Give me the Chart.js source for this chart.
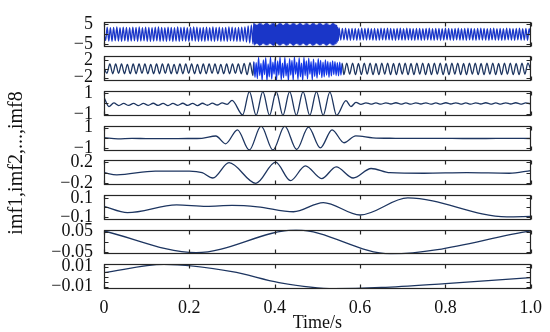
<!DOCTYPE html>
<html>
<head>
<meta charset="utf-8">
<script src="https://cdn.jsdelivr.net/npm/chart.js@4.4.1/dist/chart.umd.min.js"></script>
<style>
  body { margin: 0; background: #fff; }
  canvas { display: block; }
</style>
</head>
<body>
<canvas id="imfChart" width="550" height="332"></canvas>
<script>
// Axis data
const timeTicks = [0, 0.2, 0.4, 0.6, 0.8, 1.0];
const timeLabels = ["0", "0.2", "0.4", "0.6", "0.8", "1.0"];
const imfNames = ["imf1", "imf2", "imf3", "imf4", "imf5", "imf6", "imf7", "imf8"];
const imfLimits = [6.2, 2.8, 1.2, 1.2, 0.235, 0.13, 0.06, 0.0125];
const imfTicks = [
  [-5, 0, 5], [-2, 0, 2], [-1, 0, 1], [-1, 0, 1],
  [-0.2, 0, 0.2], [-0.1, 0, 0.1], [-0.05, 0, 0.05],
  [-0.01, -0.005, 0, 0.005, 0.01],
];

// imf1: peaks/troughs, evenly spaced inside each span
const imf1Spans = [[0, 0.349], [0.351, 0.549], [0.551, 1.0]];
const imf1Early = [
  0.4,-3.1, 3.5,-3.4, 3.3,-3.5, 3.4,-3.3, 3.6,-3.4,
  3.3,-3.5, 3.5,-3.3, 3.4,-3.6, 3.3,-3.4, 3.5,-3.3,
  3.4,-3.5, 3.6,-3.4, 3.3,-3.3, 3.5,-3.5, 3.4,-3.6,
  3.3,-3.4, 3.5,-3.3, 3.6,-3.5, 3.4,-3.4, 3.3,-3.5,
  3.5,-3.3, 3.4,-3.6, 3.3,-3.4, 3.6,-3.5, 3.4,-3.3,
  3.5,-3.4, 3.3,-3.5, 3.4,-3.3, 3.6,-3.4, 3.5,-3.6,
  3.3,-3.4, 3.4,-3.5, 3.5,-3.3, 3.3,-3.4, 3.6,-3.5,
  3.4,-3.3, 3.5,-3.6, 3.3,-3.4, 3.4,-3.5, 3.6,-3.3,
  3.5,-3.4, 3.3,-3.5, 3.4,-3.6, 3.5,-3.4, 3.7,-3.9,
  4.1,-4.4, 4.6,-4.8,
];
const imf1Burst = [
  5.6,-5.5, 5.3,-5.1, 4.9,-4.7, 4.7,-4.8, 5.0,-5.3, 5.5,-5.7, 5.7,
  -5.6, 5.4,-5.2, 4.9,-4.7, 4.6,-4.8, 5.0,-5.2, 5.5,-5.6, 5.7,-5.6,
  5.5,-5.3, 5.0,-4.8, 4.7,-4.7, 4.9,-5.1, 5.4,-5.6, 5.7,-5.7, 5.5,
  -5.4, 5.2,-4.9, 4.7,-4.6, 4.7,-4.9, 5.2,-5.4, 5.6,-5.7, 5.6,-5.5,
  5.3,-5.0, 4.8,-4.7, 4.7,-4.8, 5.0,-5.3, 5.5,-5.7, 5.7,-5.6, 5.4,
  -5.2, 4.9,-4.7, 4.6,-4.7, 4.9,-5.1, 5.4,-5.6, 5.7,-5.7, 5.5,-5.3,
  5.1,-4.8, 4.7,-4.7, 4.8,-5.0, 5.2,-5.5, 5.6,-5.7, 5.6,-5.4, 5.2,
  -4.9, 4.7,-4.6, 4.7,-4.9, 5.1,-5.4, 5.6,-5.7, 5.6,-5.5, 5.3,-5.0,
  4.8,-4.7, 4.7,-4.8, 5.0,-5.3, 5.5,-5.7, 5.7,-5.6, 5.4,-5.2, 4.9,
  -4.7, 4.6,-4.7, 4.9,-5.1, 5.4,-5.6, 5.7,-5.6, 5.5,-5.3, 5.0,-4.8,
  4.7,-4.7, 4.8,-5.0, 5.3,-5.5, 5.7,-5.7, 5.6,-5.4, 5.1,-4.9, 4.7,
  -4.6, 4.7,-4.9, 5.2,-5.4, 5.6,-5.7, 5.6,-5.5, 5.2,-5.0, 4.8,-4.7,
  4.5,-4.0, 3.5,-3.2,
];
const imf1Late = [
  3.1,-2.9, 2.9,-2.8, 3.0,-2.9, 2.8,-3.0, 2.9,-2.8,
  2.9,-3.0, 2.8,-2.9, 3.0,-2.8, 2.9,-2.9, 3.0,-2.8,
  2.8,-2.9, 2.9,-3.0, 2.8,-2.9, 3.0,-2.8, 2.9,-2.9,
  3.0,-2.8, 2.9,-2.9, 2.8,-3.0, 2.9,-2.8, 3.0,-2.9,
  2.8,-2.9, 3.0,-2.8, 2.9,-2.9, 2.8,-3.0, 2.9,-2.8,
  2.9,-3.0, 2.8,-2.9, 2.9,-2.8, 3.0,-2.9, 2.8,-3.0,
  2.9,-2.8, 2.9,-3.0, 2.8,-2.9, 3.0,-2.8, 2.9,-2.9,
  2.8,-3.0, 2.9,-2.8, 3.0,-2.9, 2.8,-2.9, 2.9,-3.0,
  3.0,-2.8, 2.9,-2.9, 2.8,-3.0, 2.9,-2.8, 3.0,-2.9,
  2.9,-2.9, 2.8,-3.0, 2.9,-2.8, 3.0,-2.9, 2.8,-2.9,
  2.9,-3.0, 2.8,-2.9, 3.0,-2.8, 2.9,-2.9, 2.8,-3.0,
  2.9,-2.8, 3.0,-2.9, 2.8,-2.9, 2.9,-3.0, 2.8,-1.5,
];

// imf2
const imf2Spans = [[0, 0.349], [0.351, 0.558], [0.562, 1.0]];
const imf2Early = [
  0.3,-1.0, 1.1,-1.1, 1.1,-1.0, 1.1,-1.1, 1.0,-1.1,
  1.1,-1.1, 1.1,-1.0, 1.1,-1.1, 1.0,-1.1, 1.1,-1.1,
  1.1,-1.0, 1.1,-1.1, 1.0,-1.1, 1.1,-1.1, 1.1,-1.0,
  1.1,-1.1, 1.0,-1.1, 1.1,-1.1, 1.1,-1.0, 1.1,-1.1,
  1.0,-1.1, 1.1,-1.1, 1.1,-1.0, 1.1,-1.1, 1.2,-1.3,
  1.4,-1.5,
];
const imf2Burst = [
  1.6,-1.9, 1.4,-2.2, 2.6,-1.5, 1.2,-2.6, 2.0,-1.3,
  2.5,-2.7, 1.1,-1.8, 2.7,-2.3, 1.5,-1.2, 2.4,-2.6,
  1.8,-1.4, 2.7,-2.5, 1.3,-2.0, 2.6,-1.6, 1.2,-2.7,
  2.3,-1.4, 1.9,-2.6, 2.7,-1.2, 1.5,-2.4, 2.5,-1.8,
  1.3,-2.7, 2.6,-1.5, 1.8,-2.3, 2.4,-1.2, 1.6,-2.5,
  2.2,-1.7, 1.4,-2.1, 2.3,-1.3, 1.9,-2.0, 1.5,-1.8,
  2.0,-1.4, 1.7,-1.9, 1.5,-1.6, 1.8,-1.3, 1.6,-1.5,
  1.4,-1.6, 1.5,-1.4, 1.3,
];
const imf2Late = [
  -1.3, 1.3,-1.2, 1.3,-1.3, 1.2,-1.3, 1.3,-1.2, 1.3,
  -1.3, 1.2,-1.3, 1.3,-1.2, 1.3,-1.3, 1.2,-1.3, 1.3,
  -1.2, 1.3,-1.3, 1.2,-1.3, 1.3,-1.2, 1.3,-1.3, 1.2,
  -1.3, 1.3,-1.2, 1.3,-1.3, 1.2,-1.3, 1.3,-1.2, 1.3,
  -1.3, 1.2,-1.3, 1.3,-1.2, 1.3,-1.3, 1.2,-1.3, 1.3,
  -1.2, 1.3,-1.3, 1.2,-1.3, 1.3,-1.2, 1.3,-1.3, 1.2,
  -1.3, 1.3,-1.2, 1.3,-0.2,
];

// imf3
const imf3Spans = [[0, 0.3], [0.325, 0.545], [0.567, 1.0]];
const imf3Head = [
  0.6,-0.3, 0.05,-0.2, 0.0,-0.19, 0.01,-0.2, 0.0,-0.18,
  0.02,-0.19, 0.01,-0.2, 0.0,-0.18, 0.02,-0.19, 0.01,-0.2,
  0.02,-0.17, 0.03,-0.15, 0.06,-0.08, 0.3,
];
const imf3Burst = [
  -1.1, 1.15,-1.15, 1.15,-1.15, 1.15,-1.15, 1.15,
  -1.15, 1.15,-1.15, 1.15,-1.15, 1.1,-1.15,
];
const imf3Tail = [
  0.27,-0.3, 0.1,-0.08, 0.06,-0.06, 0.05,-0.07, 0.06,-0.05,
  0.07,-0.06, 0.05,-0.07, 0.06,-0.05, 0.06,-0.07, 0.05,-0.06,
  0.07,-0.05, 0.06,-0.06, 0.05,-0.07, 0.06,-0.05, 0.07,-0.06,
  0.05,-0.06, 0.06,-0.05, 0.07,-0.06, 0.05,-0.04,
];

// imf4
const imf4Spans = [[0, 0.262], [0.285, 0.59], [0.63, 1.0]];
const imf4Head = [0.05, -0.08, -0.03, -0.05, -0.06, -0.05, -0.04, -0.02, 0.2];
const imf4Burst = [-0.55, 0.8, -1.15, 1.15, -1.15, 1.15, -1.1, 1.05, -0.95, 0.8, -0.45, 0.22];
const imf4Tail = [0.03, -0.02, -0.03, -0.03, -0.04, -0.04, -0.03, -0.04];

// imf5..imf8: turning points (time, value)
const imf5T = [0, 0.03, 0.12, 0.2, 0.23, 0.255, 0.293, 0.356, 0.402, 0.437, 0.472, 0.51, 0.544, 0.584, 0.626, 0.67, 0.75, 0.85, 0.95, 1.0];
const imf5V = [0.0, -0.04, 0.03, 0.03, 0.0, -0.1, 0.19, -0.2, 0.2, -0.15, 0.13, -0.11, 0.11, -0.1, 0.08, 0.0, -0.01, 0.0, -0.01, 0.04];
const imf6T = [0, 0.055, 0.17, 0.24, 0.3, 0.36, 0.444, 0.514, 0.6, 0.712, 0.944, 1.0];
const imf6V = [0.01, -0.055, 0.025, 0.01, 0.02, 0.005, -0.046, 0.05, -0.08, 0.098, -0.1, -0.095];
const imf7T = [0, 0.216, 0.45, 0.672, 1.0];
const imf7V = [0.053, -0.052, 0.058, -0.058, 0.053];
const imf8T = [0, 0.14, 0.3, 0.41, 0.54, 0.65, 0.8, 1.0];
const imf8V = [0.004, 0.0122, 0.005, -0.006, -0.0122, -0.011, -0.007, -0.001];

// Helpers
function spread(values, span) {
  const step = (span[1] - span[0]) / (values.length - 1);
  return values.map((v, i) => ({ x: span[0] + i * step, y: v }));
}
function zip(ts, vs) {
  return ts.map((t, i) => ({ x: t, y: vs[i] }));
}

const series = [
  [imf1Early, imf1Burst, imf1Late].flatMap((v, i) => spread(v, imf1Spans[i])),
  [imf2Early, imf2Burst, imf2Late].flatMap((v, i) => spread(v, imf2Spans[i])),
  [imf3Head, imf3Burst, imf3Tail].flatMap((v, i) => spread(v, imf3Spans[i])),
  [imf4Head, imf4Burst, imf4Tail].flatMap((v, i) => spread(v, imf4Spans[i])),
  zip(imf5T, imf5V),
  zip(imf6T, imf6V),
  zip(imf7T, imf7V),
  zip(imf8T, imf8V),
];

const navy = "#1d3560";
const blue = "#1a36c8";
const burstBlue = "#1438e6";
const lineColors = [blue, navy, navy, navy, navy, navy, navy, navy];
const FONT = "'Liberation Serif', 'Times New Roman', serif";

Chart.defaults.font.family = FONT;
Chart.defaults.color = "#111";

// Scales: one stacked y axis per imf, thin spacer axes between them
const scales = {
  x: {
    type: "linear",
    position: "bottom",
    min: 0,
    max: 1,
    afterBuildTicks: (s) => { s.ticks = timeTicks.map((v) => ({ value: v })); },
    afterFit: (s) => { s.height = 43; },
    grid: { display: false, drawTicks: false },
    border: { display: false },
    ticks: {
      autoSkip: false,
      maxRotation: 0,
      padding: 8,
      font: { size: 18 },
      callback: (v) => timeLabels[timeTicks.indexOf(v)],
    },
    title: { display: true, text: "Time/s", font: { size: 18 }, padding: { top: 0, bottom: -2 } },
  },
};

imfNames.forEach((name, k) => {
  const lim = imfLimits[k];
  const ticks = imfTicks[k];
  const outer = Math.max(...ticks);
  scales["y" + k] = {
    type: "linear",
    position: "left",
    stack: "imf",
    stackWeight: 26.2,
    weight: 100 - 2 * k,
    min: -lim,
    max: lim,
    afterBuildTicks: (s) => { s.ticks = ticks.map((v) => ({ value: v })); },
    afterFit: (s) => { s.width = 104; },
    grid: { display: false, drawTicks: false },
    border: { display: false },
    ticks: {
      autoSkip: false,
      padding: 11,
      font: { size: 18 },
      callback: (v) => {
        if (Math.abs(v) !== outer) return "";
        return v < 0 ? "\u2212" + String(-v) : String(v);
      },
    },
  };
  if (k < imfNames.length - 1) {
    scales["g" + k] = {
      type: "linear",
      position: "left",
      stack: "imf",
      stackWeight: 10.3,
      weight: 99 - 2 * k,
      grid: { display: false },
      border: { display: false },
      ticks: { display: false },
    };
  }
});

// Frames, inward ticks and y title
const framePlugin = {
  id: "frames",
  afterDatasetsDraw(chart) {
    const { ctx, chartArea } = chart;
    const xs = chart.scales.x;
    const left = Math.round(chartArea.left) + 0.5;
    const right = Math.round(chartArea.right) - 0.5;
    ctx.save();
    ctx.strokeStyle = "#262626";
    ctx.lineWidth = 1.2;
    imfNames.forEach((name, k) => {
      const ys = chart.scales["y" + k];
      const top = Math.round(ys.top) + 0.5;
      const bottom = Math.round(ys.bottom) - 0.5;
      ctx.strokeRect(left, top, right - left, bottom - top);
      ctx.beginPath();
      timeTicks.forEach((t) => {
        const px = Math.round(xs.getPixelForValue(t)) + 0.5;
        ctx.moveTo(px, top); ctx.lineTo(px, top + 4);
        ctx.moveTo(px, bottom); ctx.lineTo(px, bottom - 4);
      });
      ys.ticks.forEach((tk) => {
        const py = Math.round(ys.getPixelForValue(tk.value)) + 0.5;
        ctx.moveTo(left, py); ctx.lineTo(left + 4, py);
        ctx.moveTo(right, py); ctx.lineTo(right - 4, py);
      });
      ctx.stroke();
    });
    // y title
    ctx.translate(17, 163);
    ctx.rotate(-Math.PI / 2);
    ctx.fillStyle = "#111";
    ctx.font = "20px " + FONT;
    ctx.textAlign = "center";
    ctx.textBaseline = "middle";
    ctx.fillText("imf1,imf2,...,imf8", 0, 0);
    ctx.restore();
  },
};

new Chart(document.getElementById("imfChart"), {
  type: "line",
  data: {
    datasets: series.map((pts, k) => ({
      label: imfNames[k],
      data: pts,
      xAxisID: "x",
      yAxisID: "y" + k,
      borderColor: lineColors[k],
      borderWidth: 1.3,
      pointRadius: 0,
      cubicInterpolationMode: "monotone",
      segment: k === 1 ? {
        borderColor: (c) => (c.p0.parsed.x >= 0.35 && c.p1.parsed.x <= 0.56 ? burstBlue : navy),
      } : undefined,
    })),
  },
  options: {
    responsive: false,
    animation: false,
    parsing: false,
    layout: { padding: { top: 7, right: 15, bottom: 0, left: 0 } },
    plugins: { legend: { display: false }, tooltip: { enabled: false } },
    scales: scales,
  },
  plugins: [framePlugin],
});
</script>
</body>
</html>
